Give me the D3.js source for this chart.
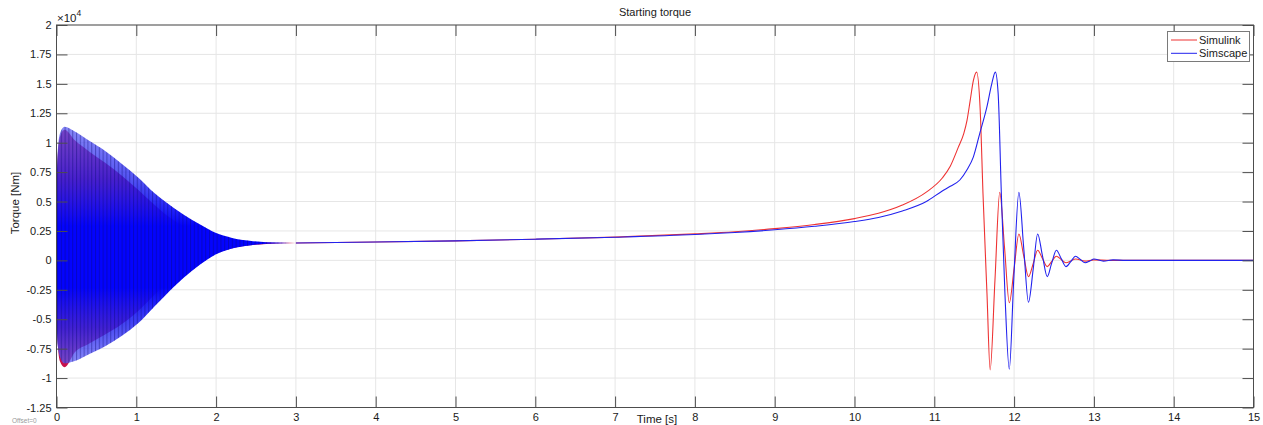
<!DOCTYPE html>
<html><head><meta charset="utf-8">
<script src="https://cdn.jsdelivr.net/npm/d3@7"></script>
<style>
html,body{margin:0;padding:0;background:#fff;}
svg{display:block;font-family:"Liberation Sans",Arial,sans-serif;}
</style></head>
<body><svg id="c" width="1263" height="425"></svg>
<script>
// ---- tick labels ----
const xTicks = [0,1,2,3,4,5,6,7,8,9,10,11,12,13,14,15];
const yTicks = [-12500,-10000,-7500,-5000,-2500,0,2500,5000,7500,10000,12500,15000,17500,20000];
const yTickLabels = ["-1.25","-1","-0.75","-0.5","-0.25","0","0.25","0.5","0.75","1","1.25","1.5","1.75","2"];
const seriesNames = ["Simulink","Simscape"];

// ---- start-up oscillation band (envelopes, Nm) ----
const envTime       = [0, 0.015, 0.044, 0.1, 0.23, 0.4, 0.61, 0.82, 1.03, 1.23, 1.36, 1.59, 1.8, 2.0, 2.2, 2.42, 2.63, 2.84, 3.0];
const simulinkUpper = [6000, 8800, 10500, 11100, 10200, 9300, 8300, 7200, 5950, 4700, 3950, 2900, 2150, 1800, 1620, 1540, 1510, 1490, 1480];
const simulinkLower = [-4500, -7000, -8600, -9080, -7800, -7100, -6300, -5400, -4250, -2900, -2000, -850, 0, 600, 1040, 1280, 1400, 1450, 1480];
const simscapeUpper = [6500, 9100, 10800, 11360, 10950, 10200, 9300, 8200, 7000, 5700, 5000, 3900, 3050, 2320, 1910, 1670, 1540, 1500, 1480];
const simscapeLower = [-5000, -7200, -8200, -8750, -8550, -8000, -7300, -6400, -5300, -3900, -3000, -1500, -350, 520, 1010, 1270, 1420, 1460, 1480];

// ---- after the start-up (Nm) ----
const simulinkTime = [3, 4, 5, 6, 7, 8, 8.5, 9, 9.5, 10, 10.3, 10.6, 10.9, 11.1, 11.2, 11.3, 11.37, 11.41, 11.45, 11.49, 11.53, 11.575, 11.61, 11.66, 11.70, 11.76, 11.82, 11.88, 11.94, 12.0, 12.06, 12.12, 12.18, 12.24, 12.295, 12.355, 12.416, 12.47, 12.53, 12.59, 12.65, 12.71, 12.77, 12.89, 13.0, 13.2, 15];
const simulinkTorque = [1480, 1560, 1660, 1800, 1980, 2250, 2430, 2700, 3050, 3550, 4000, 4700, 5800, 7000, 8000, 9600, 10800, 11900, 13600, 15300, 16000, 12800, 5700, -2800, -9300, -1700, 5780, 1100, -3600, -700, 2240, 400, -1380, -260, 860, 160, -530, -100, 350, 70, -200, -50, 120, -60, 40, 0, 0];
const simscapeTime = [3, 4, 5, 6, 7, 8, 8.5, 9, 9.5, 10, 10.3, 10.6, 10.9, 11.1, 11.2, 11.32, 11.41, 11.49, 11.57, 11.66, 11.72, 11.765, 11.80, 11.84, 11.885, 11.94, 11.995, 12.06, 12.12, 12.18, 12.24, 12.295, 12.355, 12.416, 12.47, 12.53, 12.59, 12.65, 12.71, 12.77, 12.83, 12.89, 12.95, 13.0, 13.12, 13.24, 13.4, 15];
const simscapeTorque = [1480, 1560, 1660, 1800, 1970, 2200, 2370, 2600, 2900, 3300, 3650, 4200, 5000, 5900, 6300, 6830, 7700, 8800, 10800, 13060, 15000, 16000, 14200, 5700, -2800, -9250, -1700, 5780, 1100, -3560, -700, 2240, 400, -1380, -260, 860, 160, -530, -100, 350, 70, -200, -50, 120, -60, 40, 0, 0];

const svg = d3.select("#c");
const x = d3.scaleLinear().domain([0, 15]).range([56.5, 1253.5]);
const y = d3.scaleLinear().domain([-12500, 20000]).range([407.5, 25]);

const defs = svg.append("defs");
const pat = defs.append("pattern").attr("id","stripes").attr("patternUnits","userSpaceOnUse")
  .attr("width", 3.8).attr("height", 10);
pat.append("rect").attr("x",0).attr("y",0).attr("width",1.1).attr("height",10).attr("fill","#0a0a70").attr("opacity",0.4);
const grad = defs.append("linearGradient").attr("id","bandGrad").attr("x1",0).attr("y1",0).attr("x2",0).attr("y2",1);
[["0","#5a5af5",0.72],["0.22","#2424f2",0.78],["0.42","#0303ff",1],["0.68","#0303ff",1],["0.85","#2424f2",0.82],["1","#5a5af5",0.72]]
  .forEach(s => grad.append("stop").attr("offset",s[0]).attr("stop-color",s[1]).attr("stop-opacity",s[2]));

// grid
const g = svg.append("g");
g.selectAll(".gx").data(xTicks).join("line")
  .attr("x1", d => x(d)).attr("x2", d => x(d)).attr("y1", y(20000)).attr("y2", y(-12500))
  .attr("stroke", "#e6e6e6").attr("stroke-width", 1);
g.selectAll(".gy").data(yTicks).join("line")
  .attr("y1", d => y(d)).attr("y2", d => y(d)).attr("x1", x(0)).attr("x2", x(15))
  .attr("stroke", "#e6e6e6").attr("stroke-width", 1);

const clip = defs.append("clipPath").attr("id","plotclip");
clip.append("rect").attr("x", x(0)).attr("y", y(20000)).attr("width", x(15)-x(0)).attr("height", y(-12500)-y(20000));
const plot = svg.append("g").attr("clip-path","url(#plotclip)");

const redArea = d3.area().x((d,i) => x(envTime[i])).y0((d,i) => y(simulinkLower[i])).y1((d,i) => y(simulinkUpper[i])).curve(d3.curveMonotoneX);
const blueArea = d3.area().x((d,i) => x(envTime[i])).y0((d,i) => y(simscapeLower[i])).y1((d,i) => y(simscapeUpper[i])).curve(d3.curveMonotoneX);

plot.append("path").datum(envTime).attr("d", redArea).attr("fill", "#c8104a");
plot.append("path").datum(envTime).attr("d", blueArea).attr("fill", "url(#bandGrad)");
plot.append("path").datum(envTime).attr("d", blueArea).attr("fill", "url(#stripes)");

const line = d3.line().curve(d3.curveMonotoneX);
plot.append("path").attr("d", line(simulinkTime.map((t,i) => [x(t), y(simulinkTorque[i])])))
  .attr("fill","none").attr("stroke","#ee3333").attr("stroke-width",1.1);
plot.append("path").attr("d", line(simscapeTime.map((t,i) => [x(t), y(simscapeTorque[i])])))
  .attr("fill","none").attr("stroke","#2222ee").attr("stroke-width",1.1);

// axes box
const axCol = "#4d4d4d";
svg.append("rect").attr("x", x(0)).attr("y", y(20000)).attr("width", x(15)-x(0)).attr("height", y(-12500)-y(20000))
  .attr("fill","none").attr("stroke", axCol).attr("stroke-width",1);

const tl = 11;
const axB = svg.append("g").attr("transform", `translate(0,${y(-12500)})`)
  .call(d3.axisBottom(x).tickValues(xTicks).tickSizeInner(-tl).tickSizeOuter(0).tickPadding(6).tickFormat(d3.format("d")));
const axT = svg.append("g").attr("transform", `translate(0,${y(20000)})`)
  .call(d3.axisTop(x).tickValues(xTicks).tickSizeInner(-tl).tickSizeOuter(0).tickFormat(""));
const axL = svg.append("g").attr("transform", `translate(${x(0)},0)`)
  .call(d3.axisLeft(y).tickValues(yTicks).tickSizeInner(-tl).tickSizeOuter(0).tickPadding(5)
    .tickFormat(d => yTickLabels[yTicks.indexOf(d)]));
const axR = svg.append("g").attr("transform", `translate(${x(15)},0)`)
  .call(d3.axisRight(y).tickValues(yTicks).tickSizeInner(-tl).tickSizeOuter(0).tickFormat(""));
[axB, axT, axL, axR].forEach(a => {
  a.select(".domain").remove();
  a.selectAll(".tick line").attr("stroke", axCol);
  a.selectAll("text").attr("fill","#1a1a1a").style("font-size","11px").style("font-family","'Liberation Sans',Arial,sans-serif");
});
axB.selectAll("text").attr("dy","0.71em");

// exponent
const ex = svg.append("text").attr("x", 57).attr("y", 22).attr("fill","#1a1a1a").style("font-size","11.5px");
ex.append("tspan").text("\u00d710");
ex.append("tspan").attr("dy",-6).style("font-size","8.5px").text("4");

// title & labels
svg.append("text").attr("x", 655).attr("y", 16).attr("text-anchor","middle").attr("fill","#1a1a1a").style("font-size","11px").text("Starting torque");
svg.append("text").attr("x", 657).attr("y", 423).attr("text-anchor","middle").attr("fill","#1a1a1a").style("font-size","11.5px").text("Time [s]");
svg.append("text").attr("transform","translate(19,203) rotate(-90)").attr("text-anchor","middle").attr("fill","#1a1a1a").style("font-size","11.5px").text("Torque [Nm]");
svg.append("text").attr("x", 12).attr("y", 423).attr("fill","#9a9a9a").style("font-size","6.5px").text("Offset=0");

// legend
const lg = svg.append("g");
lg.append("rect").attr("x",1167.5).attr("y",31.5).attr("width",82).attr("height",30).attr("fill","#fff").attr("stroke","#7a7a7a").attr("stroke-width",1);
const legColors = ["#ee3333","#2222ee"];
seriesNames.forEach((n,i) => {
  const yy = 40 + i*13.3;
  lg.append("line").attr("x1",1171).attr("x2",1197).attr("y1",yy).attr("y2",yy).attr("stroke",legColors[i]).attr("stroke-width",1);
  lg.append("text").attr("x",1199).attr("y",yy+4).attr("fill","#1a1a1a").style("font-size","11px").text(n);
});
</script></body></html>
